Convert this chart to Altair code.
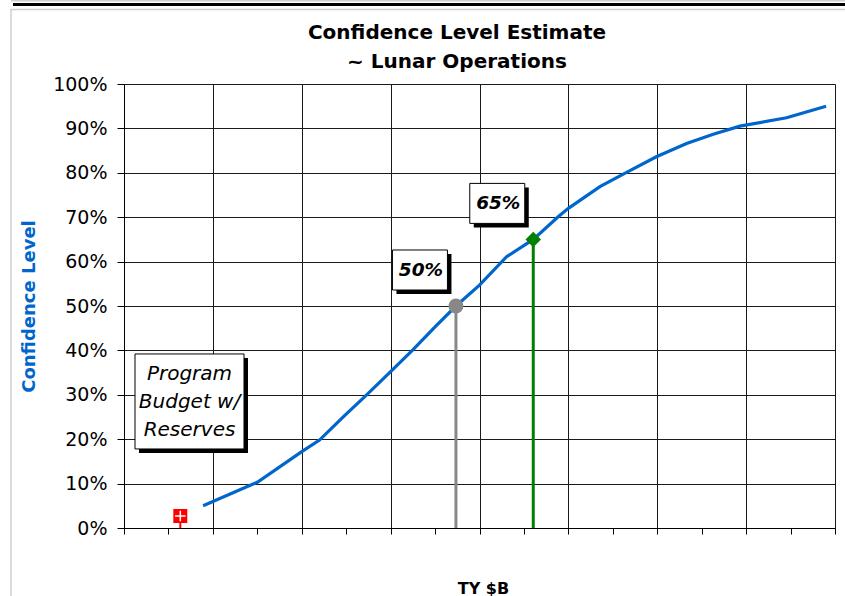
import altair as alt
import pandas as pd

FONT = "DejaVu Sans"
BLUE = "#0066CC"

# Cumulative confidence curve: cost position (half-gridline units of TY $B) vs. confidence %
cost = [1.78, 3.0, 4.0, 4.4, 4.94, 5.46, 6.0, 6.5, 7.0, 7.47, 8.0, 8.61, 9.21,
        9.77, 10.0, 10.71, 11.31, 11.98, 12.66, 13.26, 13.86, 14.91, 15.8]
level = [5, 10.3, 17.2, 19.8, 25.1, 30, 35.2, 40.1, 45.3, 50, 54.7, 61.1, 65,
         70.1, 72.0, 76.9, 80.1, 83.6, 86.6, 88.7, 90.5, 92.4, 95]

# Highlighted confidence levels
marker_cost = [7.47, 9.21]
marker_level = [50, 65]
marker_label = ["50%", "65%"]
marker_color = ["#888888", "#008000"]
marker_shape = ["circle", "diamond"]
marker_size = [225, 240]

# Program budget with reserves
budget_cost = [1.267]
budget_level = [2.7]
note_cost = [1.474]
note_level = [28.5]
note_text = [["Program", "Budget w/", "Reserves"]]

title_lines = ["Confidence Level Estimate", "~ Lunar Operations"]

x_ticks = list(range(0, 17))
y_ticks = list(range(0, 101, 10))

curve = pd.DataFrame({"cost": cost, "level": level})
markers = pd.DataFrame({
    "cost": marker_cost, "level": marker_level, "base": [0, 0],
    "label": marker_label, "color": marker_color,
    "shape": marker_shape, "size": marker_size,
})
budget = pd.DataFrame({"cost": budget_cost, "level": budget_level, "base": [0]})
note = pd.DataFrame({"cost": note_cost, "level": note_level, "text": note_text})

x_axis = alt.Axis(
    values=x_ticks, labels=False, ticks=True, tickSize=6, tickColor="black",
    domainColor="black", grid=True, gridColor="#1a1a1a",
    gridOpacity={"condition": {"test": "datum.value % 2 === 0", "value": 1}, "value": 0},
    title="TY $B", titleFont=FONT, titleFontSize=16, titleFontWeight="bold",
    titleColor="black", titleX=359, titleY=65, titleBaseline="alphabetic",
    titleAlign="center",
)
y_axis = alt.Axis(
    values=y_ticks, labelExpr="datum.value + '%'", labelFont=FONT, labelFontSize=19,
    labelColor="black", labelPadding=10, tickSize=7, tickColor="black",
    domainColor="black", grid=True, gridColor="#1a1a1a",
    title="Confidence Level", titleFont=FONT, titleFontSize=18, titleFontWeight="bold",
    titleColor=BLUE, titleAngle=270, titleX=-95, titleY=222,
    titleBaseline="middle", titleAlign="center",
)


def xenc(field="cost"):
    return alt.X(f"{field}:Q", scale=alt.Scale(domain=[0, 16], nice=False), axis=x_axis)


def yenc(field="level"):
    return alt.Y(f"{field}:Q", scale=alt.Scale(domain=[0, 100], nice=False), axis=y_axis)


# Page frame lines around the chart
single = alt.Data(values=[{}])
frame_top = alt.Chart(single).mark_rule(color="#cfcfcf", strokeWidth=1.5).encode(
    x=alt.value(-113), x2=alt.value(721), y=alt.value(-83.3))
frame_band = alt.Chart(single).mark_rule(color="black", strokeWidth=3).encode(
    x=alt.value(-111), x2=alt.value(721), y=alt.value(-79.4))
frame_inner = alt.Chart(single).mark_rule(color="#cfcfcf", strokeWidth=1.5).encode(
    x=alt.value(-113), x2=alt.value(721), y=alt.value(-74.4))
frame_left = alt.Chart(single).mark_rule(color="#cfcfcf", strokeWidth=1.5).encode(
    x=alt.value(-113), y=alt.value(-75), y2=alt.value(512))

# Two-line heading above the plot
heading = alt.Chart(single).mark_text(
    font=FONT, fontSize=20, fontWeight="bold", color="black",
    align="center", baseline="alphabetic", lineHeight=29.4,
).encode(x=alt.value(333), y=alt.value(-45.5), text=alt.value(title_lines))

stems = alt.Chart(markers).mark_rule(strokeWidth=3).encode(
    x=xenc(), y=yenc("base"), y2="level:Q",
    color=alt.Color("color:N", scale=None),
)

line = alt.Chart(curve).mark_line(color=BLUE, strokeWidth=3.2).encode(x=xenc(), y=yenc())

points = alt.Chart(markers).mark_point(filled=True, opacity=1).encode(
    x=xenc(), y=yenc(),
    color=alt.Color("color:N", scale=None),
    shape=alt.Shape("shape:N", scale=None),
    size=alt.Size("size:Q", scale=None),
)

budget_stem = alt.Chart(budget).mark_rule(color="#ff0000", strokeWidth=2).encode(
    x=xenc(), y=yenc("base"), y2="level:Q")
budget_square = alt.Chart(budget).mark_point(
    shape="square", filled=True, color="#ff0000", opacity=1, size=196
).encode(x=xenc(), y=yenc())
budget_cross = alt.Chart(budget).mark_point(
    shape="M-1,0H1M0,-1V1", filled=False, color="white", strokeWidth=1.5,
    opacity=1, size=110
).encode(x=xenc(), y=yenc())

# Callout boxes (shadow + white box) for the highlighted levels
BOX_PATH = "M-1,-0.7273H1V0.7273H-1Z"
label_shadow = alt.Chart(markers).mark_point(
    shape=BOX_PATH, filled=True, color="black", opacity=1, size=3025,
    xOffset=-32, yOffset=-32,
).encode(x=xenc(), y=yenc())
label_box = alt.Chart(markers).mark_point(
    shape=BOX_PATH, filled=True, fill="white", stroke="black", strokeWidth=1,
    opacity=1, size=3025, xOffset=-36, yOffset=-36,
).encode(x=xenc(), y=yenc())
label_text = alt.Chart(markers).mark_text(
    font=FONT, fontSize=18.5, fontWeight="bold", fontStyle="italic", color="black",
    dx=-35, dy=-36, baseline="middle", align="center",
).encode(x=xenc(), y=yenc(), text="label:N")

NOTE_PATH = "M-1,-0.8716H1V0.8716H-1Z"
note_shadow = alt.Chart(note).mark_point(
    shape=NOTE_PATH, filled=True, color="black", opacity=1, size=11881,
    xOffset=4, yOffset=4,
).encode(x=xenc(), y=yenc())
note_box = alt.Chart(note).mark_point(
    shape=NOTE_PATH, filled=True, fill="white", stroke="black", strokeWidth=1,
    opacity=1, size=11881,
).encode(x=xenc(), y=yenc())
note_label = alt.Chart(note).mark_text(
    font=FONT, fontSize=20, fontStyle="italic", color="black",
    baseline="alphabetic", align="center", lineHeight=27.7, dy=-21, dx=0,
).encode(x=xenc(), y=yenc(), text="text")

chart = alt.layer(
    frame_top, frame_band, frame_inner, frame_left, heading,
    stems, line, points,
    budget_stem, budget_square, budget_cross,
    label_shadow, label_box, label_text,
    note_shadow, note_box, note_label,
).properties(
    width=711, height=444,
    autosize=alt.AutoSizeParams(type="none"),
    padding={"left": 124, "top": 84, "right": 10, "bottom": 68},
    background="white",
).configure_view(strokeWidth=0)

chart.save("out.html", embed_options={"renderer": "svg", "actions": False})
